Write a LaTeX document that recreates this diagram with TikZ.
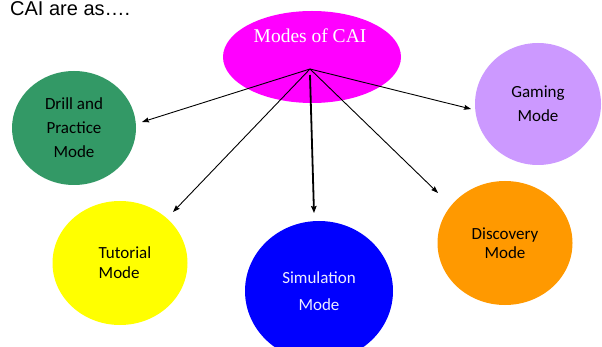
\documentclass[tikz,border=0pt]{standalone}
\usepackage{fontspec}
\setmainfont{Liberation Serif}
\newfontfamily\arialf{Liberation Sans}
\newfontfamily\calib{Carlito}
\usetikzlibrary{shapes.geometric,arrows.meta}
\definecolor{cgreen}{HTML}{339966}
\definecolor{cmag}{HTML}{FF00FF}
\definecolor{clav}{HTML}{CC99FF}
\definecolor{cyel}{HTML}{FFFF00}
\definecolor{cblue}{HTML}{0000FF}
\definecolor{corange}{HTML}{FF9900}
\definecolor{simtext}{HTML}{EEEEFF}
\tikzset{
  blob/.style={ellipse, inner sep=0pt, align=center, font=\calib\fontsize{17}{24}\selectfont},
  link/.style={-{Stealth[length=7pt,width=5pt,inset=1pt]}, line width=0.9pt, black},
  biglink/.style={-{Stealth[length=7pt,width=5.5pt,inset=1pt]}, line width=1.8pt, black},
}
\begin{document}
\begin{tikzpicture}[x=1pt,y=-1pt]
\useasboundingbox (0,0) rectangle (602,347);
\clip (0,0) rectangle (602,347);
\fill[white] (0,0) rectangle (602,347);

\node[anchor=base west, inner sep=0pt, font=\arialf\fontsize{20}{24}\selectfont] (title) at (10,16) {CAI are as….};

\node[ellipse, fill=cmag, minimum width=178pt, minimum height=92pt, inner sep=0pt] (root) at (312,57) {};
\node[anchor=base, inner sep=0pt, text=white, font=\fontsize{19.5}{24}\selectfont] (roottext) at (310,43) {Modes of CAI};

\node[blob, fill=cgreen, minimum width=124pt, minimum height=114pt] (drill) at (74,128) {Drill and\\Practice\\Mode};
\node[blob, fill=clav, minimum width=126pt, minimum height=122pt, font=\calib\fontsize{17}{24}\selectfont] (gaming) at (538,104) {Gaming\\Mode};
\node[blob, fill=cyel, minimum width=135pt, minimum height=124pt, align=left, font=\calib\fontsize{17}{20}\selectfont] (tutorial) at (120,263) {\hspace*{10pt}Tutorial\\\hspace*{10pt}Mode};
\node[blob, fill=cblue, minimum width=148pt, minimum height=140pt, text=simtext, font=\calib\fontsize{17}{27}\selectfont] (sim) at (319,291) {Simulation\\Mode};
\node[blob, fill=corange, minimum width=135pt, minimum height=124pt, font=\calib\fontsize{17}{18.5}\selectfont] (disc) at (505,243) {Discovery\\Mode};

\coordinate (hub) at (310,69);
\coordinate (hubs) at (310,75);
\coordinate (tdrill) at (142,122);
\coordinate (tgaming) at (471,109);
\coordinate (ttut) at (173,212);
\coordinate (tsim) at (314,213);
\coordinate (tdisc) at (438,193);

\draw[link] (hub) -- (tdrill);
\draw[link] (hub) -- (tgaming);
\draw[link] (hub) -- (ttut);
\draw[link] (hub) -- (tdisc);
\draw[biglink] (hubs) -- (tsim);
\end{tikzpicture}
\end{document}
